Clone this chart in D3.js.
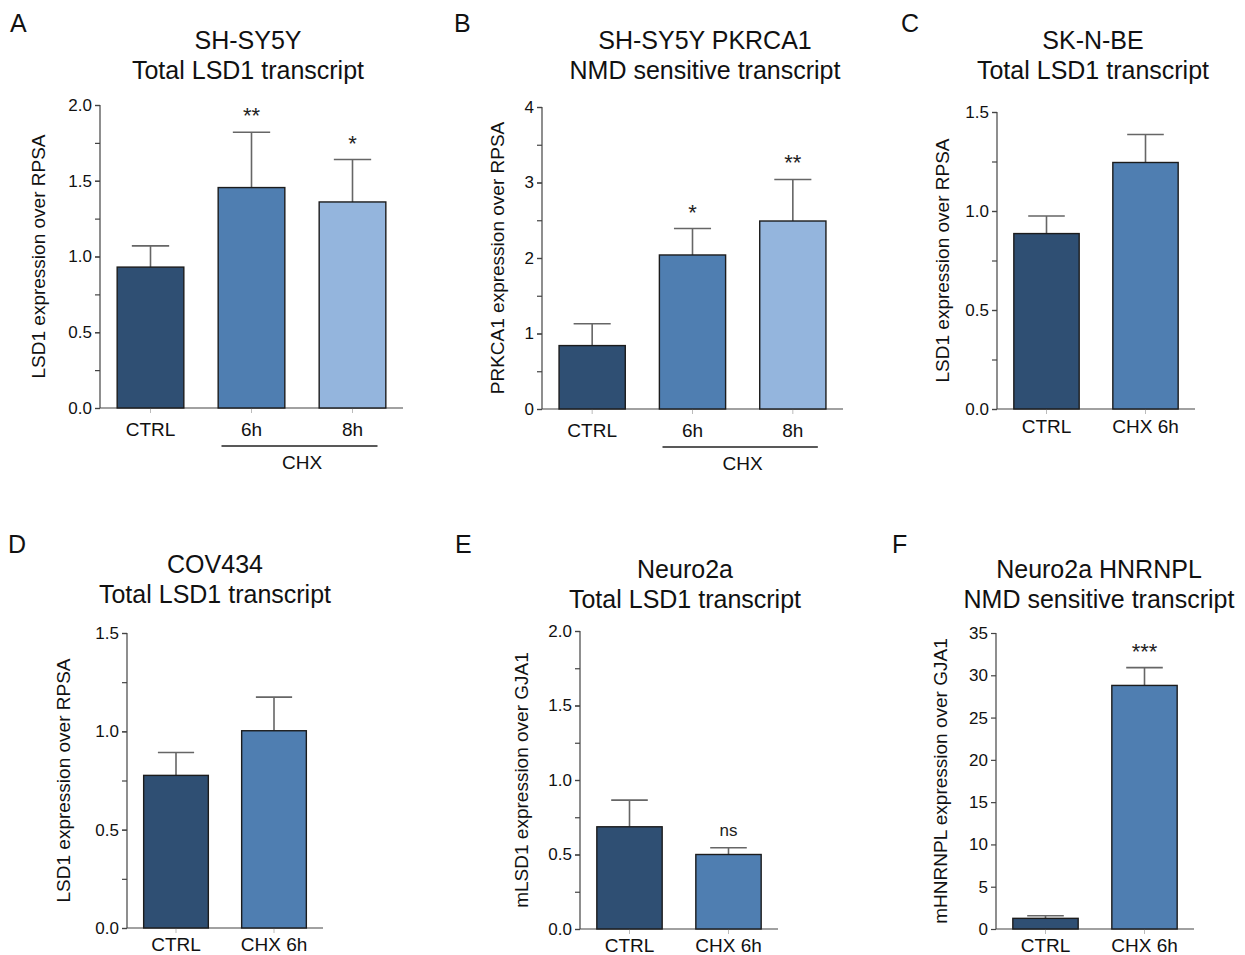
<!DOCTYPE html>
<html>
<head>
<meta charset="utf-8">
<script src="https://cdn.jsdelivr.net/npm/d3@7"></script>
<style>
  body { margin: 0; background: #fff; }
  svg { display: block; font-family: "Liberation Sans", Arial, sans-serif; }
</style>
</head>
<body>
<svg id="fig" width="1245" height="955"></svg>
<script>
// values (mean, upper error bar)
var catsA = ["CTRL", "6h", "8h"];
var meanA = [0.93, 1.455, 1.36];
var errA = [1.07, 1.82, 1.64];
var sigA = ["", "**", "*"];

var catsB = ["CTRL", "6h", "8h"];
var meanB = [0.84, 2.04, 2.49];
var errB = [1.13, 2.39, 3.04];
var sigB = ["", "*", "**"];

var catsC = ["CTRL", "CHX 6h"];
var meanC = [0.886, 1.245];
var errC = [0.975, 1.386];
var sigC = ["", ""];

var catsD = ["CTRL", "CHX 6h"];
var meanD = [0.776, 1.003];
var errD = [0.892, 1.174];
var sigD = ["", ""];

var catsE = ["CTRL", "CHX 6h"];
var meanE = [0.686, 0.50];
var errE = [0.865, 0.545];
var sigE = ["", "ns"];

var catsF = ["CTRL", "CHX 6h"];
var meanF = [1.26, 28.8];
var errF = [1.57, 30.9];
var sigF = ["", "***"];

var barColors = ["#2f4f73", "#4f7eb1", "#94b5dd"];

var svg = d3.select("#fig");

// one panel = one small bar chart
function drawPanel(p) {
  var g = svg.append("g");

  var x = d3.scaleBand()
    .domain(p.cats)
    .range([p.x0, p.x1])
    .paddingInner(0.34)
    .paddingOuter(0.17);

  var y = d3.scaleLinear().domain(p.domain).range([p.y0, p.y1]);

  // minor ticks first, so the major axis sits on top
  if (p.minor) {
    g.append("g")
      .attr("transform", "translate(" + p.x0 + ",0)")
      .call(d3.axisLeft(y).tickValues(d3.range(p.domain[0], p.domain[1] + 1e-9, p.minor)).tickSize(5).tickFormat(""))
      .call(function(a){ a.select(".domain").remove(); a.selectAll("line").attr("stroke", "#444").attr("stroke-width", 1.2); });
  }

  var yAxis = g.append("g")
    .attr("transform", "translate(" + p.x0 + ",0)")
    .call(d3.axisLeft(y).tickValues(d3.range(p.domain[0], p.domain[1] + 1e-9, p.step))
      .tickSize(5).tickPadding(3).tickFormat(d3.format(p.fmt)));
  yAxis.select(".domain").attr("stroke", "#444").attr("stroke-width", 1.2).attr("d", "M0," + p.y0 + "V" + p.y1);
  yAxis.selectAll("line").attr("stroke", "#444").attr("stroke-width", 1.2);
  yAxis.selectAll("text").attr("font-size", 17).attr("fill", "#111");

  var xAxis = g.append("g")
    .attr("transform", "translate(0," + p.y0 + ")")
    .call(d3.axisBottom(x).tickSize(5).tickPadding(p.xPad));
  xAxis.select(".domain").attr("stroke", "#444").attr("stroke-width", 1.2).attr("d", "M" + p.x0 + ",0H" + p.x1);
  xAxis.selectAll("line").attr("stroke", "#bbb").attr("stroke-width", 1);
  xAxis.selectAll("text").attr("font-size", 19).attr("fill", "#111");

  var rows = p.cats.map(function(c, i) {
    return { cat: c, mean: p.mean[i], err: p.err[i], sig: p.sig[i], col: barColors[i] };
  });

  var bw = x.bandwidth();
  var capHalf = bw * 0.28;

  // error bars (upper only)
  g.selectAll(".eb").data(rows).enter().append("path")
    .attr("fill", "none").attr("stroke", "#666").attr("stroke-width", 1.6)
    .attr("d", function(d) {
      var cx = x(d.cat) + bw / 2;
      return "M" + cx + "," + y(d.mean) + "V" + y(d.err) +
        "M" + (cx - capHalf) + "," + y(d.err) + "H" + (cx + capHalf);
    });

  g.selectAll(".bar").data(rows).enter().append("rect")
    .attr("x", function(d){ return x(d.cat); })
    .attr("y", function(d){ return y(d.mean); })
    .attr("width", bw)
    .attr("height", function(d){ return y(p.domain[0]) - y(d.mean); })
    .attr("fill", function(d){ return d.col; })
    .attr("stroke", "#1c1c1c").attr("stroke-width", 1.4);

  g.selectAll(".sig").data(rows.filter(function(d){ return d.sig; })).enter().append("text")
    .attr("x", function(d){ return x(d.cat) + bw / 2; })
    .attr("y", function(d){ return d.sig == "ns" ? y(d.err) - 12 : y(d.err) - 9; })
    .attr("text-anchor", "middle")
    .attr("font-size", function(d){ return d.sig == "ns" ? 17 : 22; })
    .attr("fill", "#222")
    .text(function(d){ return d.sig; });

  // bracket for grouped CHX conditions
  if (p.group) {
    var a = x(p.group[0]) + bw / 2 - 30, b = x(p.group[1]) + bw / 2 + 25;
    g.append("line").attr("x1", a).attr("x2", b)
      .attr("y1", p.y0 + 38).attr("y2", p.y0 + 38)
      .attr("stroke", "#222").attr("stroke-width", 1.6);
    g.append("text")
      .attr("x", (x(p.group[0]) + x(p.group[1])) / 2 + bw / 2)
      .attr("y", p.y0 + 61)
      .attr("text-anchor", "middle").attr("font-size", 19).attr("fill", "#111")
      .text("CHX");
  }

  g.append("text")
    .attr("transform", "translate(" + p.labelX + "," + (p.y0 + p.y1) / 2 + ") rotate(-90)")
    .attr("text-anchor", "middle").attr("dy", "0.35em")
    .attr("font-size", 19).attr("fill", "#111")
    .text(p.ylabel);

  p.title.forEach(function(t, i) {
    g.append("text")
      .attr("x", p.titleX).attr("y", p.titleY + i * 30)
      .attr("text-anchor", "middle").attr("font-size", 25).attr("fill", "#111")
      .text(t);
  });

  g.append("text")
    .attr("x", p.letter[1]).attr("y", p.letter[2])
    .attr("font-size", 25).attr("fill", "#111")
    .text(p.letter[0]);
}

var panels = [
  { cats: catsA, mean: meanA, err: errA, sig: sigA, x0: 100, x1: 403, y0: 408, y1: 105,
    domain: [0, 2], step: 0.5, minor: 0.25, fmt: ".1f", group: ["6h", "8h"], xPad: 10,
    ylabel: "LSD1 expression over RPSA", labelX: 38,
    title: ["SH-SY5Y", "Total LSD1 transcript"], titleX: 248, titleY: 49, letter: ["A", 10, 32] },
  { cats: catsB, mean: meanB, err: errB, sig: sigB, x0: 542, x1: 843, y0: 409, y1: 107,
    domain: [0, 4], step: 1, minor: 0.5, fmt: "d", group: ["6h", "8h"], xPad: 10,
    ylabel: "PRKCA1 expression over RPSA", labelX: 497,
    title: ["SH-SY5Y PKRCA1", "NMD sensitive transcript"], titleX: 705, titleY: 49, letter: ["B", 454, 32] },
  { cats: catsC, mean: meanC, err: errC, sig: sigC, x0: 997, x1: 1195, y0: 409, y1: 112,
    domain: [0, 1.5], step: 0.5, minor: 0.25, fmt: ".1f", xPad: 6,
    ylabel: "LSD1 expression over RPSA", labelX: 942,
    title: ["SK-N-BE", "Total LSD1 transcript"], titleX: 1093, titleY: 49, letter: ["C", 901, 32] },
  { cats: catsD, mean: meanD, err: errD, sig: sigD, x0: 127, x1: 323, y0: 928, y1: 633,
    domain: [0, 1.5], step: 0.5, minor: 0.25, fmt: ".1f", xPad: 5,
    ylabel: "LSD1 expression over RPSA", labelX: 63,
    title: ["COV434", "Total LSD1 transcript"], titleX: 215, titleY: 573, letter: ["D", 8, 553] },
  { cats: catsE, mean: meanE, err: errE, sig: sigE, x0: 580, x1: 778, y0: 929, y1: 631,
    domain: [0, 2], step: 0.5, minor: 0.25, fmt: ".1f", xPad: 5,
    ylabel: "mLSD1 expression over GJA1", labelX: 521,
    title: ["Neuro2a", "Total LSD1 transcript"], titleX: 685, titleY: 578, letter: ["E", 455, 553] },
  { cats: catsF, mean: meanF, err: errF, sig: sigF, x0: 996, x1: 1194, y0: 929, y1: 633,
    domain: [0, 35], step: 5, minor: 0, fmt: "d", xPad: 5,
    ylabel: "mHNRNPL expression over GJA1", labelX: 940,
    title: ["Neuro2a HNRNPL", "NMD sensitive transcript"], titleX: 1099, titleY: 578, letter: ["F", 892, 553] }
];

panels.forEach(drawPanel);
</script>
</body>
</html>
